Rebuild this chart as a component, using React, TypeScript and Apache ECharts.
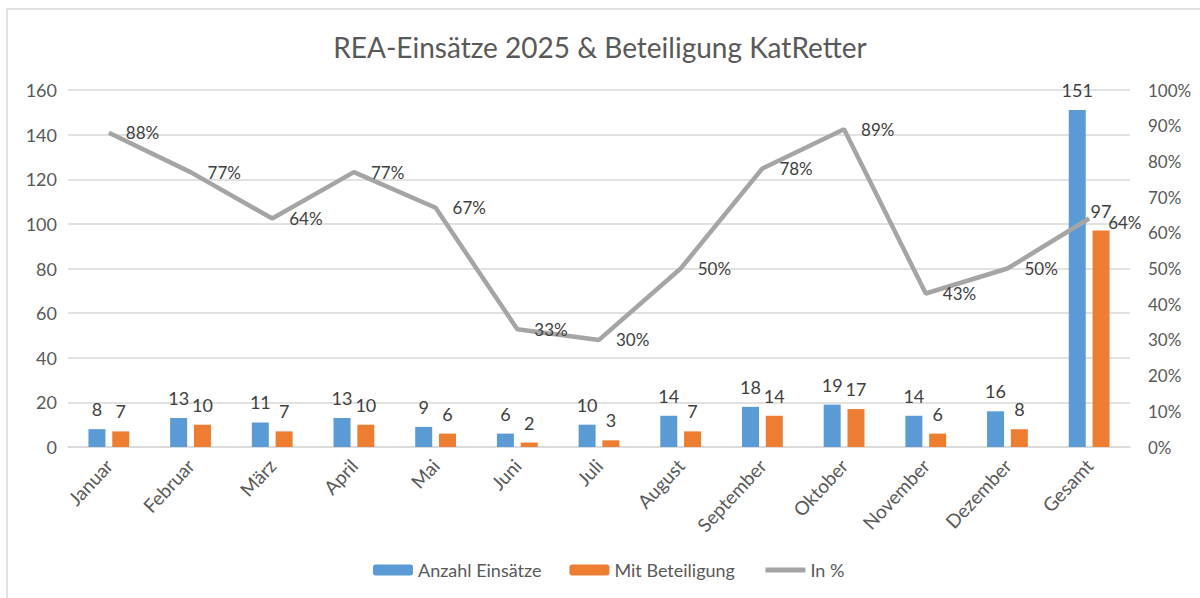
import React, { useEffect, useRef } from "react";
import * as echarts from "echarts";

const categories = ["Januar", "Februar", "März", "April", "Mai", "Juni", "Juli", "August", "September", "Oktober", "November", "Dezember", "Gesamt"];
const anzahl = [8, 13, 11, 13, 9, 6, 10, 14, 18, 19, 14, 16, 151];
const beteiligung = [7, 10, 7, 10, 6, 2, 3, 7, 14, 17, 6, 8, 97];
const prozent = [88, 77, 64, 77, 67, 33, 30, 50, 78, 89, 43, 50, 64];

const FONT = "Lato";

export default function App() {
  const ref = useRef<HTMLDivElement>(null);
  useEffect(() => {
    document.body.style.margin = "0";
    const chart = echarts.init(ref.current!, null, { renderer: "svg" });
    const lineData = prozent.map((v, i) =>
      i === prozent.length - 1 ? { value: v, label: { offset: [2, 4] } } : v
    );
    chart.setOption({
      animation: false,
      backgroundColor: "#ffffff",
      textStyle: { fontFamily: FONT },
      graphic: [
        {
          type: "rect",
          shape: { x: 7, y: 9, width: 1200, height: 600 },
          style: { fill: "none", stroke: "#D9D9D9", lineWidth: 1.5 },
          silent: true,
        },
      ],
      title: {
        text: "REA-Einsätze 2025 & Beteiligung KatRetter",
        left: "center",
        top: 28,
        textStyle: { fontFamily: FONT, fontSize: 28, fontWeight: "normal", color: "#595959" },
      },
      legend: {
        bottom: 14,
        left: 368,
        itemWidth: 40,
        itemHeight: 11,
        itemGap: 28,
        textStyle: { fontFamily: FONT, fontSize: 18, color: "#595959" },
        data: [
          "Anzahl Einsätze",
          "Mit Beteiligung",
          { name: "In %", lineStyle: { width: 5, color: "#A5A5A5" } },
        ],
      },
      grid: { left: 68, right: 70, top: 90, bottom: 151 },
      xAxis: {
        type: "category",
        data: categories,
        axisLine: { lineStyle: { color: "#D9D9D9", width: 1.5 } },
        axisTick: { show: false },
        axisLabel: { rotate: 47, fontFamily: FONT, fontSize: 19, color: "#595959", margin: 15, interval: 0 },
      },
      yAxis: [
        {
          type: "value",
          min: 0,
          max: 160,
          interval: 20,
          axisLine: { show: false },
          axisTick: { show: false },
          splitLine: { lineStyle: { color: "#D9D9D9", width: 1.5 } },
          axisLabel: { fontFamily: FONT, fontSize: 18, color: "#595959", margin: 11 },
        },
        {
          type: "value",
          min: 0,
          max: 100,
          interval: 10,
          axisLine: { show: false },
          axisTick: { show: false },
          splitLine: { show: false },
          axisLabel: { fontFamily: FONT, fontSize: 17, color: "#595959", margin: 18, formatter: "{value}%" },
        },
      ],
      series: [
        {
          name: "Anzahl Einsätze",
          type: "bar",
          data: anzahl,
          barWidth: 17,
          barGap: "40%",
          itemStyle: { color: "#5B9BD5" },
          label: { show: true, position: "top", fontFamily: FONT, fontSize: 18, color: "#404040", distance: 11 },
        },
        {
          name: "Mit Beteiligung",
          type: "bar",
          data: beteiligung,
          barWidth: 17,
          itemStyle: { color: "#ED7D31" },
          label: { show: true, position: "top", fontFamily: FONT, fontSize: 18, color: "#404040", distance: 11 },
        },
        {
          name: "In %",
          type: "line",
          yAxisIndex: 1,
          data: lineData,
          symbol: "circle",
          symbolSize: 2,
          showSymbol: true,
          lineStyle: { color: "#A5A5A5", width: 4.5 },
          itemStyle: { color: "rgba(165,165,165,0)" },
          label: { show: true, position: "right", formatter: "{c}%", fontFamily: FONT, fontSize: 17, color: "#404040", distance: 16 },
        },
      ],
    });
    return () => chart.dispose();
  }, []);
  return <div ref={ref} style={{ width: 1200, height: 598 }} />;
}
